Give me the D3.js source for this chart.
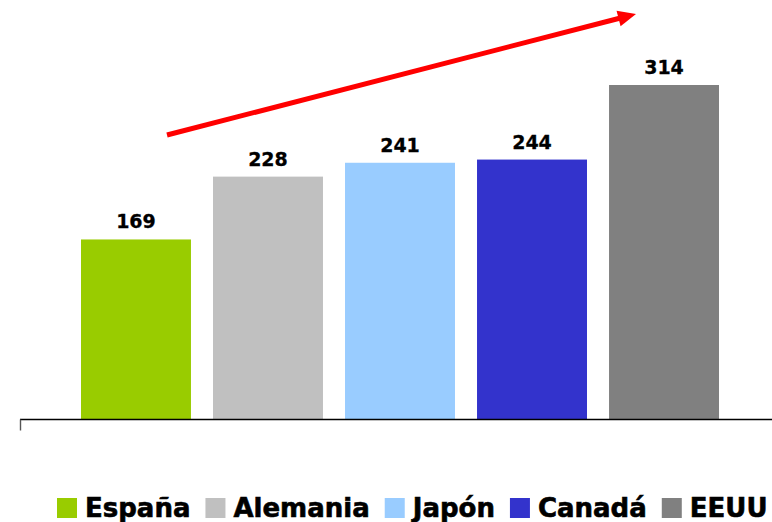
<!DOCTYPE html>
<html>
<head>
<meta charset="utf-8">
<script src="https://cdn.jsdelivr.net/npm/d3@7"></script>
<style>
  html, body { margin: 0; padding: 0; background: #fff; }
  svg { display: block; }
  text { font-family: "DejaVu Sans", Verdana, sans-serif; font-weight: bold; fill: #000; stroke: #000; }
</style>
</head>
<body>
<svg id="chart" width="772" height="522"></svg>
<script>
// Country categories and their values
const countries = ["España", "Alemania", "Japón", "Canadá", "EEUU"];
const values = [169, 228, 241, 244, 314];
const colors = ["#99CC00", "#C0C0C0", "#99CCFF", "#3333CC", "#808080"];

const svg = d3.select("#chart");
const baseY = 419.5;

const x = d3.scaleBand()
  .domain(countries)
  .range([81, 719])
  .paddingInner(0.167)
  .paddingOuter(0);

const y = d3.scaleLinear()
  .domain([0, 350])
  .range([baseY, baseY - 350 * 1.0653]);

// Bars
svg.append("g").selectAll("rect")
  .data(countries)
  .join("rect")
  .attr("x", d => x(d))
  .attr("y", (d, i) => y(values[i]))
  .attr("width", x.bandwidth())
  .attr("height", (d, i) => baseY - y(values[i]))
  .attr("fill", (d, i) => colors[i]);

// Value labels
svg.append("g").selectAll("text")
  .data(countries)
  .join("text")
  .attr("x", d => x(d) + x.bandwidth() / 2)
  .attr("y", (d, i) => y(values[i]) - 11)
  .attr("text-anchor", "middle")
  .style("font-size", "19px")
  .style("stroke-width", "0.3px")
  .text((d, i) => values[i]);

// Category axis line with a single left tick
svg.append("line")
  .attr("x1", 20).attr("x2", 772)
  .attr("y1", baseY).attr("y2", baseY)
  .attr("stroke", "#000").attr("stroke-width", 1.4);
svg.append("line")
  .attr("x1", 20.5).attr("x2", 20.5)
  .attr("y1", baseY).attr("y2", 430.5)
  .attr("stroke", "#555").attr("stroke-width", 1.4);

// Growth arrow
const ax1 = 167, ay1 = 135, ax2 = 636, ay2 = 14;
const ang = Math.atan2(ay2 - ay1, ax2 - ax1);
const headLen = 18, headHalf = 8;
const bx = ax2 - headLen * Math.cos(ang), by = ay2 - headLen * Math.sin(ang);
svg.append("line")
  .attr("x1", ax1).attr("y1", ay1)
  .attr("x2", bx + 2 * Math.cos(ang)).attr("y2", by + 2 * Math.sin(ang))
  .attr("stroke", "#FF0000").attr("stroke-width", 5);
svg.append("polygon")
  .attr("points", [
    [ax2, ay2],
    [bx - headHalf * Math.sin(ang), by + headHalf * Math.cos(ang)],
    [bx + headHalf * Math.sin(ang), by - headHalf * Math.cos(ang)]
  ].map(p => p.join(",")).join(" "))
  .attr("fill", "#FF0000");

// Legend
const legend = svg.append("g");
let lx = 57;
countries.forEach((c, i) => {
  legend.append("rect")
    .attr("x", lx).attr("y", 498)
    .attr("width", 20).attr("height", 20)
    .attr("fill", colors[i]);
  const t = legend.append("text")
    .attr("x", lx + 28).attr("y", 517)
    .style("font-size", "26px")
    .style("stroke-width", "0.6px")
    .text(c);
  lx += 28 + t.node().getComputedTextLength() + 15;
});
</script>
</body>
</html>
